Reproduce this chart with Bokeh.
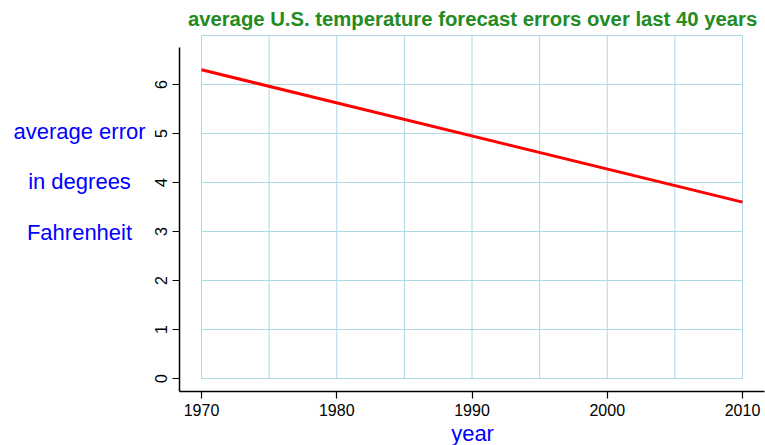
from bokeh.plotting import figure
from bokeh.models import Range1d, FixedTicker, Label, LinearAxis
from bokeh.embed import file_html
from bokeh.resources import INLINE

# ---- data ----
years = [1970, 2010]
avg_error = [6.3, 3.6]
x_ticks = [1970, 1980, 1990, 2000, 2010]
y_ticks = [0, 1, 2, 3, 4, 5, 6]
x_grid = [1970, 1975, 1980, 1985, 1990, 1995, 2000, 2005, 2010]
y_grid = [0, 1, 2, 3, 4, 5, 6, 7]
title_text = "average U.S. temperature forecast errors over last 40 years"
ylabel_lines = ["average error", "in degrees", "Fahrenheit"]
xlabel_text = "year"

FONT = "Liberation Sans"

# plot box (R-style 4% padded region)
X0, X1 = 1968.4, 2011.6
Y0, Y1 = -0.2653, 6.755

p = figure(width=765, height=445, output_backend="svg", toolbar_location=None,
           x_range=Range1d(1955.139, 2011.70), y_range=Range1d(-1.3673, 7.7143),
           x_axis_location=None, y_axis_location=None,
           min_border_left=0, min_border_right=0, min_border_top=0,
           min_border_bottom=0)
p.outline_line_color = None
p.background_fill_color = "white"
p.border_fill_color = "white"
p.grid.visible = False

# grid drawn inside the data box only
p.segment(x0=x_grid, x1=x_grid, y0=[min(y_grid)] * len(x_grid), y1=[max(y_grid)] * len(x_grid),
          line_color="#ADD8E6", line_width=1)
p.segment(x0=[min(x_grid)] * len(y_grid), x1=[max(x_grid)] * len(y_grid), y0=y_grid, y1=y_grid,
          line_color="#ADD8E6", line_width=1)

p.line(years, avg_error, line_color="#FF0000", line_width=3)

# axes (L-shaped box)
xaxis = LinearAxis(fixed_location=Y0, bounds=(X0 - 0.03, X1),
                   ticker=FixedTicker(ticks=x_ticks))
yaxis = LinearAxis(fixed_location=X0 - 0.03, bounds=(Y0, Y1),
                   ticker=FixedTicker(ticks=y_ticks))
for ax in (xaxis, yaxis):
    ax.axis_line_color = "black"
    ax.axis_line_width = 1.5
    ax.major_tick_line_color = "black"
    ax.major_tick_line_width = 1.2
    ax.major_tick_out = 7
    ax.major_tick_in = 0
    ax.minor_tick_line_color = None
    ax.major_label_text_font = FONT
    ax.major_label_text_font_size = "16px"
    ax.major_label_text_color = "black"
    ax.major_label_standoff = 5
yaxis.major_label_orientation = "vertical"
p.add_layout(xaxis, "below")
p.add_layout(yaxis, "left")

# title
p.add_layout(Label(x=1990.04, y=7.327, text=title_text, text_align="center",
                   text_baseline="middle", text_font=FONT, text_font_size="20.3px",
                   text_font_style="bold", text_color="#228B22"))

# y label lines
for txt, yy in zip(ylabel_lines, [5.04, 4.02, 2.98]):
    p.add_layout(Label(x=1960.98, y=yy, text=txt, text_align="center",
                       text_baseline="middle", text_font=FONT, text_font_size="22px",
                       text_color="#0000FF"))

# x label
p.add_layout(Label(x=1990.04, y=-1.12, text=xlabel_text, text_align="center",
                   text_baseline="middle", text_font=FONT, text_font_size="22px",
                   text_color="#0000FF"))

open("out.html", "w").write(file_html(p, INLINE))
